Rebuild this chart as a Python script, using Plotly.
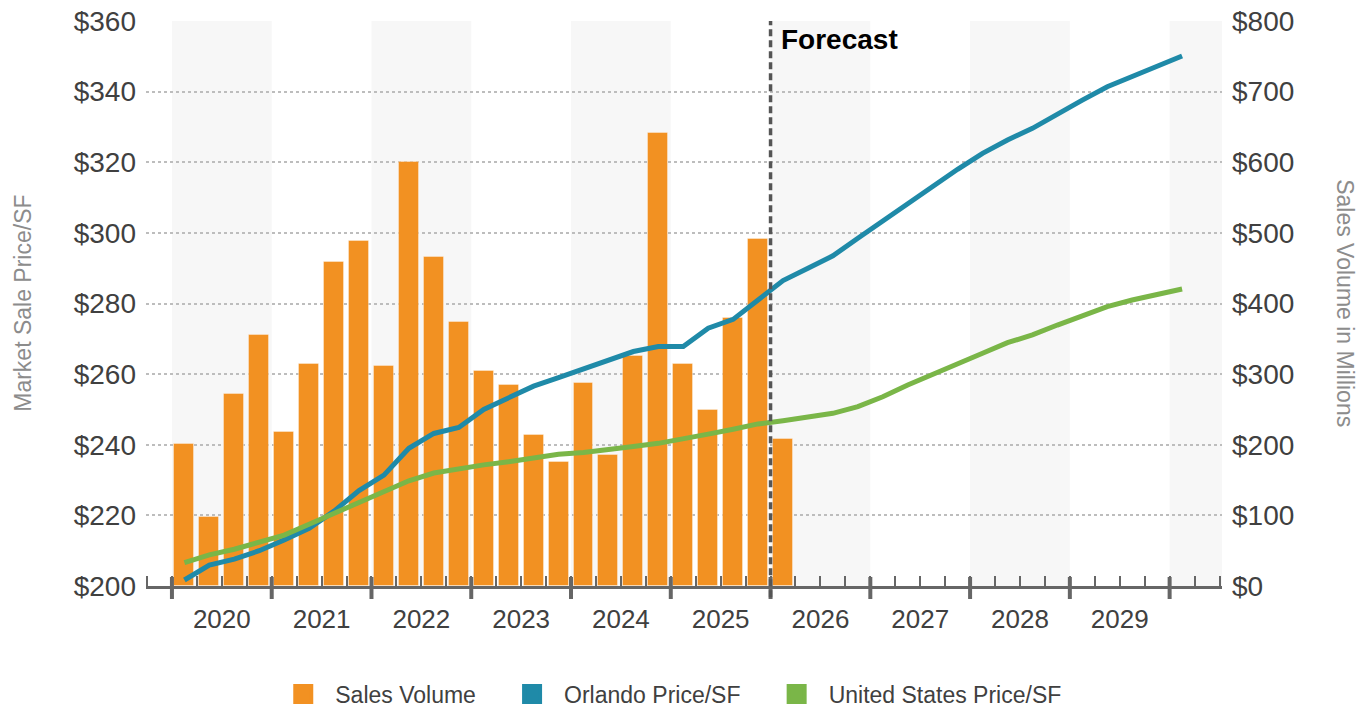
import plotly.graph_objects as go

# Quarterly series, 2020 Q1 onward
years = [2020, 2021, 2022, 2023, 2024, 2025, 2026, 2027, 2028, 2029]
sales_volume = [201, 97, 272, 355, 218, 314, 459, 489, 311, 600, 466, 374,
                304, 284, 214, 176, 288, 186, 326, 641, 315, 249, 380, 492, 208]
orlando_price = [201.7, 205.9, 207.6, 210.0, 213.0, 216.3, 221.2, 227.0, 231.4, 239.0,
                 243.2, 244.9, 250.0, 253.3, 256.6, 259.0, 261.4, 264.0, 266.4, 267.8,
                 267.8, 273.0, 275.5, 281.0, 286.5, 290.0, 293.5, 298.5, 303.4, 308.4,
                 313.1, 318.0, 322.5, 326.3, 329.6, 333.7, 337.6, 341.4, 344.4, 347.3, 350.1]
us_price = [206.6, 208.8, 210.4, 212.3, 214.4, 217.5, 220.6, 223.8, 227.0, 229.8,
            232.0, 233.3, 234.3, 235.2, 236.2, 237.3, 237.8, 238.5, 239.5, 240.4,
            241.6, 243.0, 244.4, 245.9, 246.8, 247.8, 248.9, 250.8, 253.6, 256.9,
            260.0, 263.1, 265.9, 268.9, 271.1, 273.9, 276.5, 279.1, 281.0, 282.7, 284.1]
forecast_start_year = 2026

ORANGE = "#f29122"
TEAL = "#1f8aa8"
GREEN = "#7ab648"
AXIS = "#666666"
TXT = "#404040"
FONT = "Liberation Sans, Arial, sans-serif"
NBSP = "\u00a0"

def qx(i):
    # quarter index -> x position (quarter centre)
    return i + 0.5

x_bars = [qx(i) for i in range(len(sales_volume))]
x_lines = [qx(i) for i in range(len(orlando_price))]
X0, X1 = -1.04, 42.1

fig = go.Figure()
fig.add_trace(go.Bar(x=x_bars, y=sales_volume, marker_color=ORANGE,
                     marker_line=dict(color="rgba(255,255,255,0.35)", width=1),
                     width=0.8, yaxis="y", showlegend=False))
fig.add_trace(go.Scatter(x=x_lines, y=orlando_price, mode="lines", yaxis="y2",
                         line=dict(color=TEAL, width=5), showlegend=False))
fig.add_trace(go.Scatter(x=x_lines, y=us_price, mode="lines", yaxis="y2",
                         line=dict(color=GREEN, width=5), showlegend=False))

# legend entries as squares (trailing spaces widen the gap to the next entry)
for name, col, pad in [("Sales Volume", ORANGE, 3), ("Orlando Price/SF", TEAL, 3),
                       ("United States Price/SF", GREEN, 0)]:
    fig.add_trace(go.Scatter(x=[None], y=[None], mode="markers", name=name + NBSP * pad,
                             marker=dict(symbol="square", size=16, color=col,
                                         line=dict(color=col, width=4)),
                             yaxis="y2", showlegend=True))

shapes = []
# alternating year bands
for k in range(0, 11, 2):
    shapes.append(dict(type="rect", xref="x", yref="paper", x0=4 * k, x1=min(4 * k + 4, X1),
                       y0=0, y1=1, fillcolor="#f7f7f7", line_width=0, layer="below"))
# year boundary ticks crossing the axis
for k in range(0, 11):
    shapes.append(dict(type="line", xref="x", yref="paper", x0=4 * k, x1=4 * k,
                       y0=-0.023, y1=0.016, line=dict(color=AXIS, width=4)))
# forecast divider
fx = 4 * (forecast_start_year - years[0])
shapes.append(dict(type="line", xref="x", yref="paper", x0=fx, x1=fx, y0=-0.02, y1=1,
                   line=dict(color="#555555", width=3.5, dash="7px,4px")))

annotations = [
    dict(text="<b>Forecast</b>", xref="x", yref="paper", x=fx, y=0.968, xanchor="left",
         yanchor="middle", xshift=8, showarrow=False,
         font=dict(family=FONT, size=28, color="#000000")),
    dict(text="Market Sale Price/SF", xref="paper", yref="paper", x=-0.115, y=0.5,
         xanchor="center", yanchor="middle", textangle=-90, showarrow=False,
         font=dict(family=FONT, size=23, color="#8c8c8c")),
    dict(text="Sales Volume in Millions", xref="paper", yref="paper", x=1.1146, y=0.5,
         xanchor="center", yanchor="middle", textangle=90, showarrow=False,
         font=dict(family=FONT, size=23, color="#8c8c8c")),
]

fig.update_layout(
    width=1372, height=709,
    margin=dict(l=146, r=150, t=21, b=123, autoexpand=False),
    paper_bgcolor="white", plot_bgcolor="white",
    font=dict(family=FONT, color=TXT),
    bargap=0,
    shapes=shapes,
    annotations=annotations,
    xaxis=dict(range=[X0, X1], tickmode="array", automargin=False,
               tickvals=[4 * k + 2 for k in range(len(years))],
               ticktext=[str(y) for y in years], ticks="",
               tickfont=dict(size=26, color=TXT), ticklabelstandoff=8,
               showgrid=False, zeroline=False,
               showline=True, linecolor=AXIS, linewidth=3,
               minor=dict(tickmode="array", tickvals=list(range(-1, 43)), ticks="inside",
                          ticklen=10, tickwidth=2, tickcolor=AXIS, showgrid=False)),
    yaxis=dict(range=[0, 800], side="right", tickmode="linear", tick0=0, dtick=100,
               tickprefix="$", tickfont=dict(size=28, color=TXT), ticklabelstandoff=9,
               showgrid=True, gridcolor="#bdbdbd", griddash="dot", gridwidth=1.5,
               zeroline=False, showline=False, ticks="", automargin=False),
    yaxis2=dict(range=[200, 360], overlaying="y", side="left", tickmode="linear",
                tick0=200, dtick=20, tickprefix="$", tickfont=dict(size=28, color=TXT),
                ticklabelstandoff=9, showgrid=False, zeroline=False, showline=False,
                ticks="", automargin=False),
    legend=dict(orientation="h", x=0.4863, xanchor="center",
                yref="container", y=0.021, yanchor="middle",
                font=dict(family=FONT, size=23, color=TXT), itemwidth=54,
                traceorder="normal", bgcolor="rgba(0,0,0,0)"),
)

fig.write_html("out.html")
